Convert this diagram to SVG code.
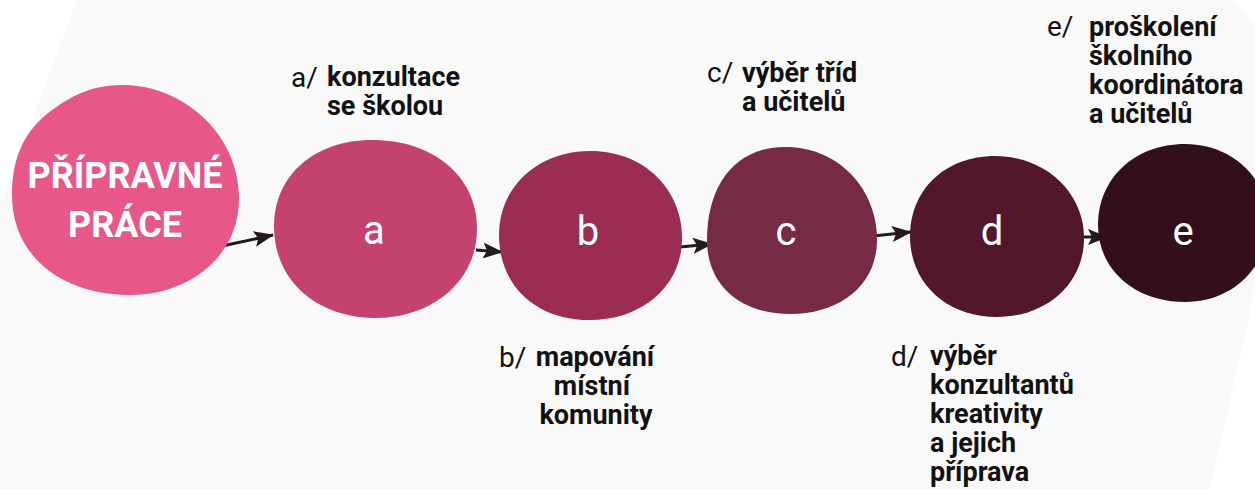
<svg xmlns="http://www.w3.org/2000/svg" width="1255" height="489" viewBox="0 0 1255 489">
<style>
.lbl{font-family:Roboto,"Liberation Sans",sans-serif;font-size:27px;font-weight:700;fill:#111}
.pre{font-family:Roboto,"Liberation Sans",sans-serif;font-size:28px;font-weight:400;fill:#111}
.let{font-family:Roboto,"Liberation Sans",sans-serif;font-size:40px;font-weight:400;fill:#fff;text-anchor:middle}
.big{font-family:Roboto,"Liberation Sans",sans-serif;font-size:36px;font-weight:700;fill:#fff;text-anchor:middle}
.conn{stroke:#231a1f;stroke-width:3;fill:none;marker-end:url(#ah)}
</style>
<defs>
<marker id="ah" markerUnits="userSpaceOnUse" markerWidth="22" markerHeight="16" refX="19" refY="8" orient="auto">
<path d="M0,0 L20,8 L0,16 L4,8 Z" fill="#231a1f"/>
</marker>
</defs>
<rect width="1255" height="489" fill="#ffffff"/>
<polygon points="77,0 1233,0 1255,25 1255,290 1210,489 0,489 0,205" fill="#f9f9f9"/>
<g id="connectors">
<path class="conn" d="M222,246 L273,235"/>
<path class="conn" d="M476,250 L502,252"/>
<path class="conn" d="M680,247 L712,244"/>
<path class="conn" d="M873,236 L911,232"/>
<path class="conn" d="M1080,237 L1107,237"/>
</g>
<g id="node-pripravne">
<path d="M239,195 C241,255 190,296 128,295 C60,294 12,255 12,195 C12,150 30,125 55,108 C80,90 100,85 125,85 C180,86 237,130 239,195 Z" fill="#e8578a"/>
<text class="big" x="125" y="188">PŘÍPRAVNÉ</text>
<text class="big" x="125" y="237">PRÁCE</text>
</g>
<g id="node-a">
<path d="M477,229 C477,283 430,318 376,318 C318,318 274,282 274,226 C274,175 315,140 372,140 C432,140 477,175 477,229 Z" fill="#c4436e"/>
<text class="let" x="374" y="244">a</text>
<text class="pre" x="291" y="87">a/</text>
<text class="lbl" x="327" y="86">konzultace</text>
<text class="lbl" x="327" y="115">se školou</text>
</g>
<g id="node-b">
<path d="M682,238 C682,288 640,320 590,320 C535,320 499,285 499,235 C499,185 540,151 590,151 C645,151 682,190 682,238 Z" fill="#9b2c53"/>
<text class="let" x="588" y="245">b</text>
<text class="pre" x="499" y="367">b/</text>
<text class="lbl" x="595" y="366" text-anchor="middle">mapování</text>
<text class="lbl" x="592" y="395" text-anchor="middle">místní</text>
<text class="lbl" x="596" y="424" text-anchor="middle">komunity</text>
</g>
<g id="node-c">
<path d="M877,240 C877,285 840,314 790,314 C740,314 707,285 707,240 C707,185 735,147 785,147 C840,147 877,190 877,240 Z" fill="#772a45"/>
<text class="let" x="786" y="245">c</text>
<text class="pre" x="707" y="82">c/</text>
<text class="lbl" x="742" y="82">výběr tříd</text>
<text class="lbl" x="742" y="111">a učitelů</text>
</g>
<g id="node-d">
<path d="M1084,238 C1084,285 1045,317 997,317 C945,317 910,282 910,236 C910,190 945,156 995,156 C1045,156 1084,192 1084,238 Z" fill="#53172b"/>
<text class="let" x="992" y="245">d</text>
<text class="pre" x="891" y="366">d/</text>
<text class="lbl" x="930" y="365">výběr</text>
<text class="lbl" x="930" y="394">konzultantů</text>
<text class="lbl" x="930" y="423">kreativity</text>
<text class="lbl" x="930" y="452">a jejich</text>
<text class="lbl" x="930" y="481">příprava</text>
</g>
<g id="node-e">
<path d="M1268,222 C1268,268 1232,302 1185,302 C1135,302 1098,270 1098,225 C1098,178 1135,144 1185,144 C1232,144 1268,178 1268,222 Z" fill="#330e1b"/>
<text class="let" x="1183" y="245">e</text>
<text class="pre" x="1047" y="36">e/</text>
<text class="lbl" x="1089" y="36">proškolení</text>
<text class="lbl" x="1089" y="65">školního</text>
<text class="lbl" x="1089" y="94">koordinátora</text>
<text class="lbl" x="1089" y="123">a učitelů</text>
</g>
</svg>
